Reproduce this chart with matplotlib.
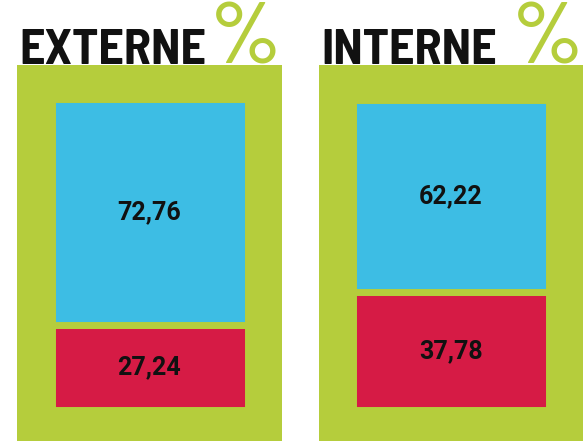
import matplotlib
matplotlib.use("Agg")
from matplotlib import pyplot as plt

# data
panels = ["EXTERNE", "INTERNE"]
oben = [72.76, 62.22]
unten = [27.24, 37.78]
labels_oben = ["72,76", "62,22"]
labels_unten = ["27,24", "37,78"]

gruen = "#b5cd3c"
blau = "#3dbde4"
rot = "#d61b45"

titel_font = ["Barlow Semi Condensed", "Barlow Condensed", "Roboto Condensed", "DejaVu Sans"]
prozent_font = ["Barlow", "Roboto", "DejaVu Sans"]

W, H = 583, 441
fig = plt.figure(figsize=(W / 100, H / 100), dpi=100)
fig.patch.set_facecolor("white")

# panel position in pixels (left, right)
panel_x = [(17, 282), (319, 583)]
top_px, bot_px = 65, 441
bar_top, bar_bot = 99.5, 409.5   # incl. half edge

def px_axes(x0, x1):
    return fig.add_axes([x0 / W, 1 - bot_px / H, (x1 - x0) / W, (bot_px - top_px) / H])

for i, name in enumerate(panels):
    x0, x1 = panel_x[i]

    # titles
    fig.text((x0 + 2) / W, 1 - 64 / H, name, ha="left", va="baseline",
             fontsize=36, fontweight="bold", color="#111111", family=titel_font)
    fig.text((x0 + 192) / W, 1 - 64 / H, "%", ha="left", va="baseline",
             fontsize=63, fontweight="medium", color=gruen, family=prozent_font, zorder=0)

    ax = px_axes(x0, x1)
    ax.set_zorder(1)
    ax.set_facecolor(gruen)
    # map 0..100 onto the bar pixel range
    span = bar_bot - bar_top
    ymin = -(bot_px - bar_bot) / span * 100
    ymax = 100 + (bar_top - top_px) / span * 100
    ax.set_ylim(ymin, ymax)
    ax.set_xlim(-0.5, 0.5)
    bw = 196 / (x1 - x0)
    ax.bar(0, unten[i], width=bw, color=rot, edgecolor=gruen, linewidth=5)
    ax.bar(0, oben[i], bottom=unten[i], width=bw, color=blau, edgecolor=gruen, linewidth=5)
    ax.text(0, unten[i] / 2, labels_unten[i], ha="center", va="center",
            fontsize=18, fontweight="bold", family="Roboto", color="#111111")
    ax.text(0, unten[i] + oben[i] / 2, labels_oben[i], ha="center", va="center",
            fontsize=18, fontweight="bold", family="Roboto", color="#111111")
    ax.set_xticks([])
    ax.set_yticks([])
    for s in ax.spines.values():
        s.set_visible(False)

fig.savefig("out.png", dpi=100, facecolor="white")
